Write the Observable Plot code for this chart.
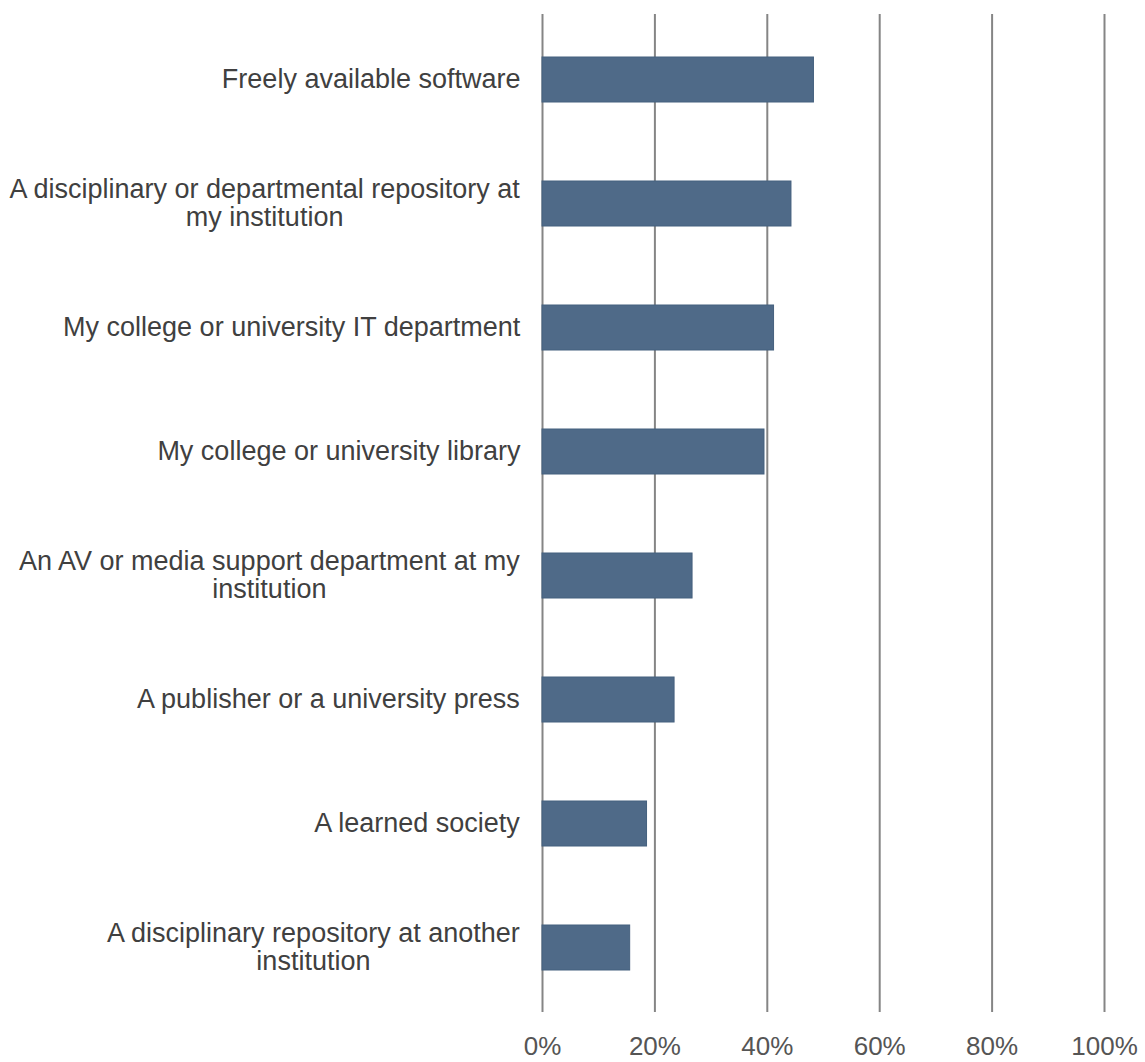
<!DOCTYPE html>
<html>
<head>
<meta charset="utf-8">
<script src="https://cdn.jsdelivr.net/npm/d3@7"></script>
<script src="https://cdn.jsdelivr.net/npm/@observablehq/plot@0.6"></script>
<style>
  html, body { margin: 0; padding: 0; background: #fff; }
  #chart { width: 1145px; height: 1062px; }
</style>
</head>
<body>
<div id="chart"></div>
<script>
const categories = [
  "Freely available software",
  "A disciplinary or departmental repository at\nmy institution",
  "My college or university IT department",
  "My college or university library",
  "An AV or media support department at my\ninstitution",
  "A publisher or a university press",
  "A learned society",
  "A disciplinary repository at another\ninstitution"
];
const values = [48.3, 44.3, 41.2, 39.5, 26.7, 23.5, 18.6, 15.6];
const xTicks = [0, 20, 40, 60, 80, 100];

const data = categories.map((c, i) => ({category: c, value: values[i]}));

const FONT = "Liberation Sans, Arial, Helvetica, sans-serif";
const LABEL_SIZE = 27;
const ctx = document.createElement("canvas").getContext("2d");
ctx.font = `${LABEL_SIZE}px Liberation Sans`;
const gap = 22;

const labelMarks = data.map(d => {
  const lines = d.category.split("\n");
  const w = Math.max(...lines.map(l => ctx.measureText(l).width));
  return Plot.text([d], {
    y: "category",
    text: "category",
    frameAnchor: "left",
    textAnchor: "middle",
    dx: -(gap + w / 2),
    dy: -1,
    lineHeight: 28 / LABEL_SIZE,
    fontSize: LABEL_SIZE,
    fill: "#404040"
  });
});

const chart = Plot.plot({
  width: 1145,
  height: 1062,
  marginLeft: 542,
  marginRight: 41,
  marginTop: 14,
  marginBottom: 50,
  style: {fontFamily: FONT, background: "#fff"},
  x: {domain: [0, 100], axis: null, label: null},
  y: {domain: categories, paddingInner: 0.64, paddingOuter: 0.32, axis: null, label: null},
  marks: [
    Plot.ruleX(xTicks, {stroke: "#858585", strokeWidth: 2}),
    Plot.barX(data, {x: "value", y: "category", fill: "#4f6a88", stroke: "#45607e", strokeWidth: 1}),
    Plot.axisX(xTicks, {
      label: null,
      tickSize: 0,
      tickPadding: 24,
      fontSize: 26,
      fill: "#555555",
      tickFormat: d => d + "%"
    }),
    ...labelMarks
  ]
});
document.getElementById("chart").appendChild(chart);
</script>
</body>
</html>
